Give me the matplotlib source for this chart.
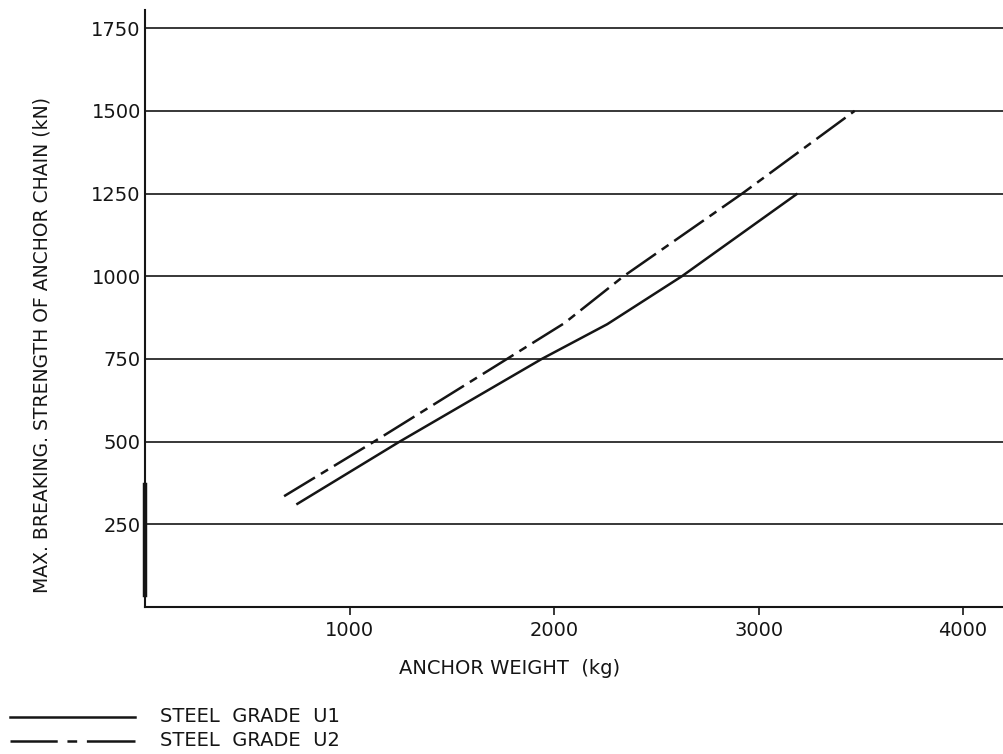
import matplotlib
matplotlib.use("Agg")
import matplotlib.pyplot as plt
from matplotlib.lines import Line2D

# values (kg -> kN)
u1_weight = [740, 1245, 1940, 2260, 2625, 3190]
u1_strength = [310, 500, 750, 855, 1000, 1250]
u2_weight = [680, 1120, 1770, 2050, 2340, 2920, 3470]
u2_strength = [335, 500, 750, 858, 1000, 1250, 1500]
y_ticks = [250, 500, 750, 1000, 1250, 1500, 1750]
x_ticks = [1000, 2000, 3000, 4000]

plt.rcParams["font.family"] = ["DejaVu Sans"]
plt.rcParams["lines.scale_dashes"] = False
INK = "#151515"
DASHDOT = (0, (26, 5, 6, 5))

W, H = 1004, 754
fig = plt.figure(figsize=(W / 100, H / 100), dpi=100)
fig.patch.set_facecolor("white")
ax = fig.add_axes([145 / W, 1 - 607 / H, 1 - 145 / W, (607 - 10) / H])
ax.set_xlim(0, 4200)
ax.set_ylim(0, 1805)

for y in y_ticks:
    ax.axhline(y, color=INK, lw=1.2, zorder=1)

ax.plot(u1_weight, u1_strength, color=INK, lw=1.8, solid_capstyle="butt", zorder=3)
ax.plot(u2_weight, u2_strength, color=INK, lw=1.8, linestyle=DASHDOT,
        dash_capstyle="butt", zorder=3)

# scan artefact: thick stroke on the lower y axis
ax.plot([0, 0], [35, 370], color=INK, lw=3.2, clip_on=False, zorder=4)

for s in ("top", "right"):
    ax.spines[s].set_visible(False)
for s in ("left", "bottom"):
    ax.spines[s].set_color(INK)
    ax.spines[s].set_linewidth(1.5)

ax.set_yticks(y_ticks)
ax.set_yticklabels([str(v) for v in y_ticks], fontsize=14, color=INK)
ax.tick_params(axis="y", length=0, pad=3)
ax.set_xticks(x_ticks)
ax.set_xticklabels([str(v) for v in x_ticks], fontsize=14, color=INK)
ax.tick_params(axis="x", length=6, width=1.2, direction="out", pad=4, color=INK)

fig.text(42 / W, 1 - 345 / H, "MAX. BREAKING. STRENGTH OF ANCHOR CHAIN (kN)",
         rotation=90, ha="center", va="center", fontsize=13.5, color=INK)
fig.text(510 / W, 1 - 668 / H, "ANCHOR WEIGHT  (kg)", ha="center", va="center",
         fontsize=14, color=INK)

# legend, drawn by hand under the axes
fig.add_artist(Line2D([10 / W, 135 / W], [1 - 717 / H] * 2, color=INK, lw=1.8))
fig.add_artist(Line2D([10 / W, 135 / W], [1 - 741 / H] * 2, color=INK, lw=1.8,
                      linestyle=(0, (34, 7, 7, 7, 40, 5)), dash_capstyle="butt"))
fig.text(160 / W, 1 - 717 / H, "STEEL  GRADE  U1", ha="left", va="center", fontsize=14, color=INK)
fig.text(160 / W, 1 - 741 / H, "STEEL  GRADE  U2", ha="left", va="center", fontsize=14, color=INK)

fig.savefig("out.png", dpi=100, facecolor="white")
